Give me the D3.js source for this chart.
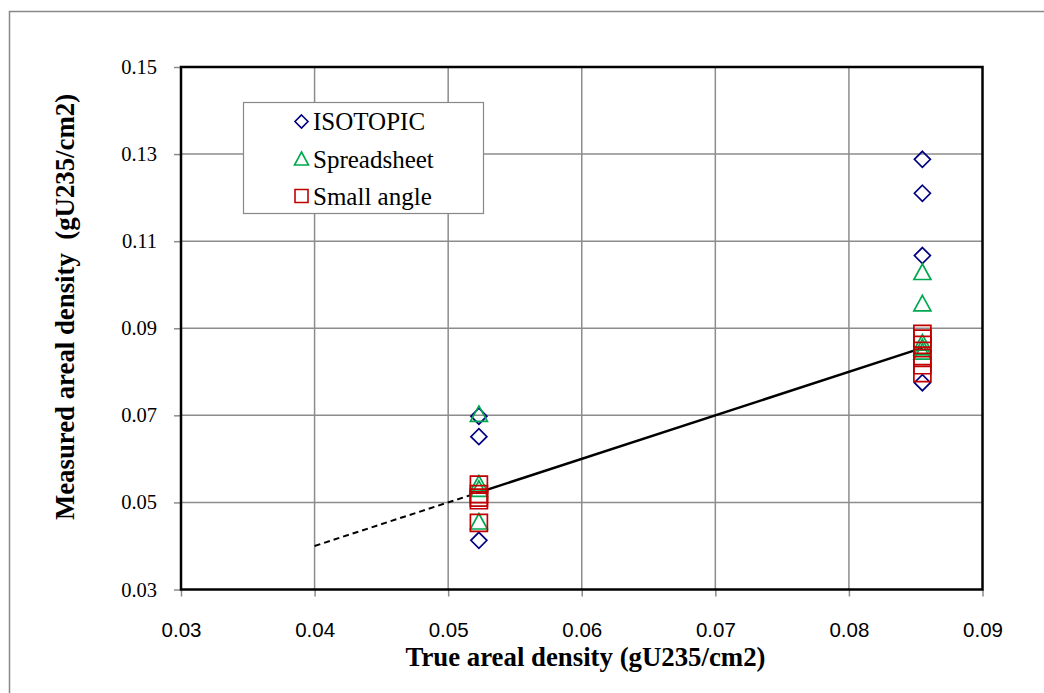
<!DOCTYPE html>
<html><head><meta charset="utf-8">
<script src="https://cdn.jsdelivr.net/npm/d3@7"></script>
<style>body{margin:0;background:#fff}svg{display:block}</style>
</head><body>
<svg id="c" width="1044" height="693"></svg>
<script>
const xTicks = [0.03, 0.04, 0.05, 0.06, 0.07, 0.08, 0.09];
const yTicks = [0.03, 0.05, 0.07, 0.09, 0.11, 0.13, 0.15];
const seriesNames = ["ISOTOPIC", "Spreadsheet", "Small angle"];
const isoX = [0.0523, 0.0523, 0.0523, 0.0855, 0.0855, 0.0855, 0.0855];
const isoY = [0.0698, 0.0651, 0.0413, 0.1288, 0.1210, 0.1067, 0.0775];
const sprX = [0.0523, 0.0523, 0.0523, 0.0523, 0.0855, 0.0855, 0.0855, 0.0855, 0.0855];
const sprY = [0.0702, 0.0542, 0.0530, 0.0455, 0.1028, 0.0956, 0.0866, 0.0855, 0.0845];
const smaX = [0.0523, 0.0523, 0.0523, 0.0523, 0.0523, 0.0855, 0.0855, 0.0855, 0.0855, 0.0855, 0.0855];
const smaY = [0.0541, 0.0519, 0.0511, 0.0505, 0.0453, 0.0887, 0.0876, 0.0862, 0.0832, 0.0815, 0.0797];
const lineDashed = [[0.04, 0.04], [0.0523, 0.0523]];
const lineSolid = [[0.0523, 0.0523], [0.0855, 0.0855]];

const svg = d3.select("#c");
const L = 181, R = 982.5, T = 67, B = 589.5;
const x = d3.scaleLinear().domain([0.03, 0.09]).range([L, R]);
const y = d3.scaleLinear().domain([0.03, 0.15]).range([B, T]);

svg.append("rect").attr("x", 9.5).attr("y", 11.5).attr("width", 1200).attr("height", 1000)
  .attr("fill", "none").attr("stroke", "#888").attr("stroke-width", 1.5);

// grid
svg.append("g").selectAll("line").data(xTicks.slice(1, -1)).join("line")
  .attr("x1", d => x(d)).attr("x2", d => x(d)).attr("y1", T).attr("y2", B)
  .attr("stroke", "#8c8c8c").attr("stroke-width", 1.5);
svg.append("g").selectAll("line").data(yTicks.slice(1, -1)).join("line")
  .attr("y1", d => y(d)).attr("y2", d => y(d)).attr("x1", L).attr("x2", R)
  .attr("stroke", "#8c8c8c").attr("stroke-width", 1.5);

// axes
const xAxis = svg.append("g").attr("transform", `translate(0,${B})`)
  .call(d3.axisBottom(x).tickValues(xTicks).tickFormat(d3.format(".2f")).tickSize(7).tickPadding(26));
xAxis.select(".domain").remove();
xAxis.selectAll("line").attr("stroke", "#8c8c8c").attr("stroke-width", 1.5);
xAxis.selectAll("text").attr("font-family", "Liberation Sans, Arial, sans-serif").attr("font-size", 20.5).attr("fill", "#000");

const yAxis = svg.append("g").attr("transform", `translate(${L},0)`)
  .call(d3.axisLeft(y).tickValues(yTicks).tickFormat(d3.format(".2f")).tickSize(7).tickPadding(17));
yAxis.select(".domain").remove();
yAxis.selectAll("line").attr("stroke", "#8c8c8c").attr("stroke-width", 1.5);
yAxis.selectAll("text").attr("font-family", "Liberation Serif, Times New Roman, serif").attr("font-size", 20.5).attr("fill", "#000");

svg.append("rect").attr("x", L).attr("y", T).attr("width", R - L).attr("height", B - T)
  .attr("fill", "none").attr("stroke", "#000").attr("stroke-width", 2.5);

// titles
svg.append("text").attr("x", 585.5).attr("y", 666).attr("text-anchor", "middle")
  .attr("font-family", "Liberation Serif, Times New Roman, serif").attr("font-weight", "bold").attr("font-size", 26.8)
  .text("True areal density (gU235/cm2)");
svg.append("text").attr("transform", "translate(74,307) rotate(-90)").attr("text-anchor", "middle")
  .attr("font-family", "Liberation Serif, Times New Roman, serif").attr("font-weight", "bold").attr("font-size", 26.8)
  .attr("xml:space", "preserve")
  .text("Measured areal density  (gU235/cm2)");

// lines
const lg = d3.line().x(d => x(d[0])).y(d => y(d[1]));
svg.append("path").attr("d", lg(lineDashed)).attr("stroke", "#000").attr("stroke-width", 2)
  .attr("stroke-dasharray", "6,4").attr("fill", "none");
svg.append("path").attr("d", lg(lineSolid)).attr("stroke", "#000").attr("stroke-width", 2.5).attr("fill", "none");

// markers
const diamond = "M0,-8L8,0L0,8L-8,0Z";
const tri = "M0,-8.5L8.5,7L-8.5,7Z";
const sq = "M-8.5,-8.5H8.5V8.5H-8.5Z";
const colors = ["#000080", "#00A850", "#C00000"];
function drawMarks(xs, ys, path, color) {
  svg.append("g").selectAll("path").data(xs.map((d, i) => [d, ys[i]])).join("path")
    .attr("d", path).attr("transform", d => `translate(${x(d[0])},${y(d[1])})`)
    .attr("fill", "none").attr("stroke", color).attr("stroke-width", 1.7);
}
drawMarks(isoX, isoY, diamond, colors[0]);
drawMarks(sprX, sprY, tri, colors[1]);
drawMarks(smaX, smaY, sq, colors[2]);

// legend
svg.append("rect").attr("x", 243.5).attr("y", 102.5).attr("width", 240).attr("height", 111)
  .attr("fill", "#fff").attr("stroke", "#888").attr("stroke-width", 1.2);
const legPaths = [
  "M0,-6.5L6.5,0L0,6.5L-6.5,0Z",
  "M0,-7L7,6L-7,6Z",
  "M-6.5,-6.5H6.5V6.5H-6.5Z"
];
const legY = [121.5, 159, 196];
seriesNames.forEach((n, i) => {
  svg.append("path").attr("d", legPaths[i]).attr("transform", `translate(301.5,${legY[i]})`)
    .attr("fill", "none").attr("stroke", colors[i]).attr("stroke-width", 1.6);
  svg.append("text").attr("x", 313).attr("y", legY[i] + 8.5)
    .attr("font-family", "Liberation Serif, Times New Roman, serif").attr("font-size", 25).text(n);
});
</script>
</body></html>
